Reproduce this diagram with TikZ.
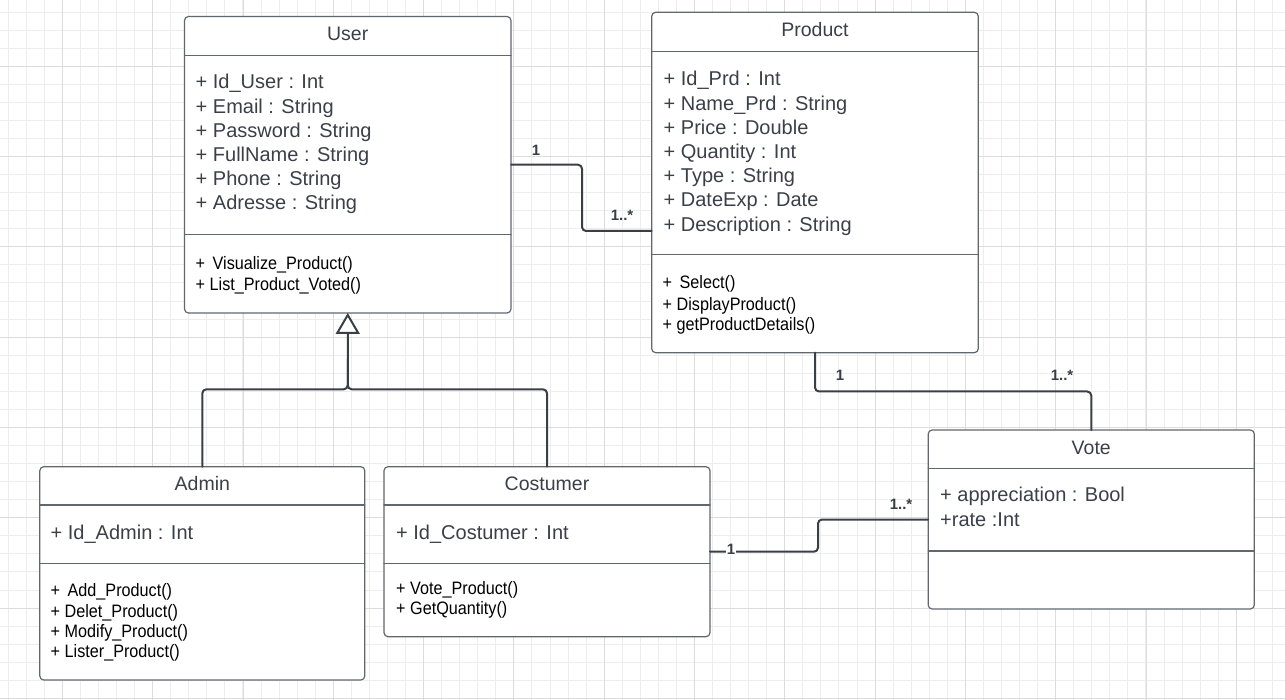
\documentclass[tikz,border=0pt]{standalone}
\usepackage{fontspec}
\setmainfont{Liberation Sans}
\newfontfamily\narrowfont[FakeStretch=0.9]{Liberation Sans}
\usetikzlibrary{arrows.meta}

\definecolor{gridminor}{HTML}{EDEDED}
\definecolor{gridmajor}{HTML}{DCDCDC}
\definecolor{boxline}{HTML}{62666D}
\definecolor{umltext}{HTML}{3B4048}
\definecolor{linkline}{HTML}{3A3F46}

\tikzset{
  minorgrid/.style={draw=gridminor, line width=1pt},
  majorgrid/.style={draw=gridmajor, line width=1pt},
  classbox/.style={draw=boxline, line width=1.2pt, rounded corners=4pt, fill=white,
    inner sep=0pt, outer sep=0pt, anchor=north west},
  divider/.style={draw=boxline, line width=1.2pt},
  classtitle/.style={anchor=base, text=umltext, inner sep=0pt, font=\fontsize{19.5}{20}\selectfont},
  attr/.style={anchor=base west, text=umltext, inner sep=0pt, font=\fontsize{20}{24}\selectfont},
  meth/.style={anchor=base west, text=black, inner sep=0pt, font=\narrowfont\fontsize{18}{20}\selectfont},
  assoc/.style={draw=linkline, line width=2pt, rounded corners=4pt},
  mult/.style={text=linkline, inner sep=1pt, font=\bfseries\fontsize{15}{15}\selectfont}
}

\begin{document}
\begin{tikzpicture}[x=1pt, y=-1pt, line join=round, line cap=round]
	% background grid
	\fill[white] (0,0) rectangle (1285,700);
	\useasboundingbox (0,0) rectangle (1285,700);
	\foreach \k in {0,...,70}
	\draw[minorgrid] (8.2+18.06*\k,0)--(8.2+18.06*\k,700);
	\foreach \k in {0,...,38}
	\draw[minorgrid] (0,12.1+18.06*\k)--(1285,12.1+18.06*\k);
	\foreach \k in {0,...,13}
	\draw[majorgrid] (62.4+90.3*\k,0)--(62.4+90.3*\k,700);
	\foreach \k in {0,...,7}
	\draw[majorgrid] (0,66.3+90.3*\k)--(1285,66.3+90.3*\k);

	% classes
	\node[classbox, minimum width=326.5pt, minimum height=296.5pt] (user) at (184.5,16.5) {};
	\node[classbox, minimum width=326.6pt, minimum height=340.4pt] (product) at (651.7,12.3) {};
	\node[classbox, minimum width=325pt, minimum height=213.3pt] (admin) at (39.8,466.7) {};
	\node[classbox, minimum width=326pt, minimum height=170pt] (costumer) at (384,466.7) {};
	\node[classbox, minimum width=326.1pt, minimum height=179pt] (vote) at (928.2,430) {};

	% connectors
	\draw[assoc] (user.east)--(582,164.75)--(582,231)--(product.west |- 0,231);
	\draw[assoc] (product.south)--++(0,38.8)-|(vote.north);
	\draw[assoc] (costumer.east)--++(108,0)|-(vote.west);
	\draw[assoc] (costumer.north)|-(347.75,389.3)--++(0,-30);
	\draw[assoc, -{Triangle[length=21pt,width=24pt,fill=white]}] (admin.north)|-(347.75,389.3)--(user.south);

	% compartments
	\draw[divider] (user.west |- 0,55.3)--(user.east |- 0,55.3);
	\draw[divider] (user.west |- 0,234.3)--(user.east |- 0,234.3);
	\draw[divider] (product.west |- 0,51.3)--(product.east |- 0,51.3);
	\draw[divider] (product.west |- 0,254.3)--(product.east |- 0,254.3);
	\draw[divider] (admin.west |- 0,505)--(admin.east |- 0,505);
	\draw[divider] (admin.west |- 0,563.3)--(admin.east |- 0,563.3);
	\draw[divider] (costumer.west |- 0,505)--(costumer.east |- 0,505);
	\draw[divider] (costumer.west |- 0,563.3)--(costumer.east |- 0,563.3);
	\draw[divider] (vote.west |- 0,468.3)--(vote.east |- 0,468.3);
	\draw[divider] (vote.west |- 0,551)--(vote.east |- 0,551);

	% User
	\node[classtitle] (usertitle) at (347.75,40.7) {User};
	\foreach \t [count=\i from 0] in {+ Id\_User : Int, + Email : String, + Password : String,
		+ FullName : String, + Phone : String, + Adresse : String}
	\node[attr] (userattr\i) at (195.5,89+24.1*\i) {\t};
	\node[meth] (usermeth0) at (195.5,269.3) {+~\,Visualize\_Product()};
	\node[meth] (usermeth1) at (195.5,291) {+ List\_Product\_Voted()};

	% Product
	\node[classtitle] (producttitle) at (815,36.7) {Product};
	\foreach \t [count=\i from 0] in {+ Id\_Prd : Int, + Name\_Prd : String, + Price : Double,
		+ Quantity : Int, + Type : String, + DateExp : Date, + Description : String}
	\node[attr] (productattr\i) at (663.5,86+24.2*\i) {\t};
	\node[meth] (productmeth0) at (662.5,289) {+~\,Select()};
	\node[meth] (productmeth1) at (662.5,310.7) {+ DisplayProduct()};
	\node[meth] (productmeth2) at (662.5,330.5) {+ getProductDetails()};

	% Admin
	\node[classtitle] (admintitle) at (202.3,490) {Admin};
	\node[attr] (adminattr0) at (50.5,539) {+ Id\_Admin : Int};
	\foreach \y/\t [count=\i from 0] in {596.5/+~\,Add\_Product(), 617.5/+ Delet\_Product(),
		637.5/+ Modify\_Product(), 657.3/+ Lister\_Product()}
	\node[meth] (adminmeth\i) at (50.5,\y) {\t};

	% Costumer
	\node[classtitle] (costumertitle) at (547,490) {Costumer};
	\node[attr] (costumerattr0) at (396,539) {+ Id\_Costumer : Int};
	\node[meth] (costumermeth0) at (396,594) {+ Vote\_Product()};
	\node[meth] (costumermeth1) at (396,614) {+ GetQuantity()};

	% Vote
	\node[classtitle] (votetitle) at (1091.25,454.3) {Vote};
	\node[attr] (voteattr0) at (940,501.7) {+ appreciation : Bool};
	\node[attr] (voteattr1) at (940,526.7) {+rate :Int};

	% multiplicities
	\node[mult] (upone) at (536,150) {1};
	\node[mult] (upmany) at (622,215.7) {1..*};
	\node[mult] (pvone) at (840,375.7) {1};
	\node[mult] (pvmany) at (1062,375.7) {1..*};
	\node[mult] (cvmany) at (901,504.3) {1..*};
	\node[mult, fill=white, inner sep=0.5pt] (cvone) at (731,549.7) {1};
\end{tikzpicture}
\end{document}
